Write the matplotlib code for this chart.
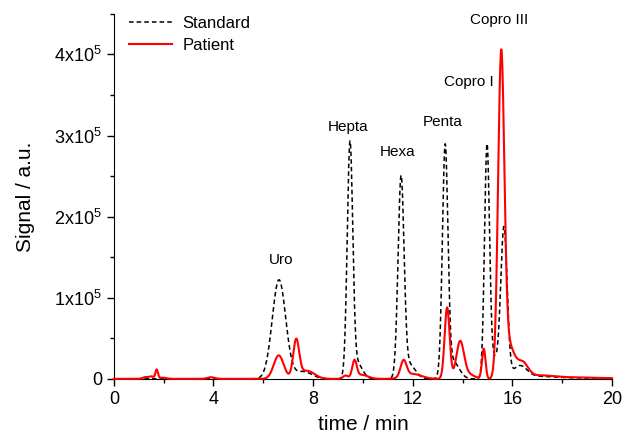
import numpy as np
import matplotlib
matplotlib.use("Agg")
import matplotlib.pyplot as plt
from matplotlib.ticker import MultipleLocator, FuncFormatter

plt.rcParams["font.family"] = ["Liberation Sans", "DejaVu Sans"]
plt.rcParams["mathtext.fontset"] = "custom"
plt.rcParams["mathtext.rm"] = "Liberation Sans"

# peaks: retention time (min), height (a.u.), width (min)
std_time = [6.63, 7.60, 9.48, 9.75, 11.53, 11.85, 13.30, 13.60, 14.98, 15.25, 15.66, 16.30, 17.0, 18.5]
std_height = [1.22e5, 0.09e5, 2.84e5, 0.20e5, 2.43e5, 0.18e5, 2.79e5, 0.22e5, 2.85e5, 0.25e5, 1.86e5, 0.15e5,
              0.025e5, 0.012e5]
std_width = [0.27, 0.35, 0.11, 0.22, 0.12, 0.25, 0.11, 0.25, 0.10, 0.15, 0.13, 0.28, 0.6, 1.2]

pat_time = [1.25, 1.50, 1.72, 1.95, 3.90, 6.62, 7.32, 7.75, 9.30, 9.66, 9.95, 11.63, 12.00,
            13.38, 13.90, 14.20, 14.85, 15.55, 15.85, 16.40, 17.0, 18.5]
pat_height = [0.02e5, 0.03e5, 0.11e5, 0.015e5, 0.02e5, 0.29e5, 0.46e5, 0.10e5, 0.04e5, 0.21e5, 0.05e5,
              0.20e5, 0.06e5, 0.88e5, 0.44e5, 0.06e5, 0.37e5, 3.90e5, 0.40e5, 0.18e5, 0.035e5, 0.018e5]
pat_width = [0.10, 0.10, 0.05, 0.15, 0.15, 0.20, 0.12, 0.30, 0.10, 0.09, 0.25, 0.12, 0.35,
             0.10, 0.15, 0.25, 0.07, 0.125, 0.22, 0.22, 0.6, 1.2]

labels = ["Uro", "Hepta", "Hexa", "Penta", "Copro I", "Copro III"]
label_x = [6.7, 9.4, 11.4, 13.2, 14.26, 15.46]
label_y = [1.46e5, 3.10e5, 2.80e5, 3.17e5, 3.66e5, 4.42e5]


def trace(t, centres, heights, widths):
    y = np.zeros_like(t)
    for c, h, w in zip(centres, heights, widths):
        y += h * np.exp(-0.5 * ((t - c) / w) ** 2)
    return y


t = np.linspace(0, 20, 4001)
standard = trace(t, std_time, std_height, std_width)
patient = trace(t, pat_time, pat_height, pat_width)

fig = plt.figure(figsize=(6.22, 4.33), dpi=100)
ax = fig.add_axes([0.183, 0.125, 0.801, 0.843])

ax.plot(t, standard, color="black", ls=(0, (3, 2)), lw=1.1, label="Standard", zorder=3, clip_on=False)
ax.plot(t, patient, color="red", lw=1.5, label="Patient", zorder=4, clip_on=False)

for name, x, y in zip(labels, label_x, label_y):
    ax.text(x, y, name, fontsize=11, ha="center", va="center")

ax.set_xlim(0, 20)
ax.set_ylim(0, 4.5e5)
ax.xaxis.set_major_locator(MultipleLocator(4))
ax.xaxis.set_minor_locator(MultipleLocator(2))
ax.yaxis.set_major_locator(MultipleLocator(1e5))
ax.yaxis.set_minor_locator(MultipleLocator(0.5e5))
ax.yaxis.set_major_formatter(FuncFormatter(lambda v, p: "0" if v == 0 else "%dx10$^{5}$" % round(v / 1e5)))

ax.spines["top"].set_visible(False)
ax.spines["right"].set_visible(False)
ax.tick_params(which="major", direction="out", length=5, width=1, labelsize=13)
ax.tick_params(which="minor", direction="out", length=3, width=1)

ax.set_xlabel("time / min", fontsize=15, labelpad=5)
ax.set_ylabel("Signal / a.u.", fontsize=15, labelpad=14)

ax.legend(loc="upper left", bbox_to_anchor=(0.0, 1.035), frameon=False, fontsize=12,
          handlelength=2.6, handletextpad=0.6, labelspacing=0.4)

fig.savefig("out.png", dpi=100)
